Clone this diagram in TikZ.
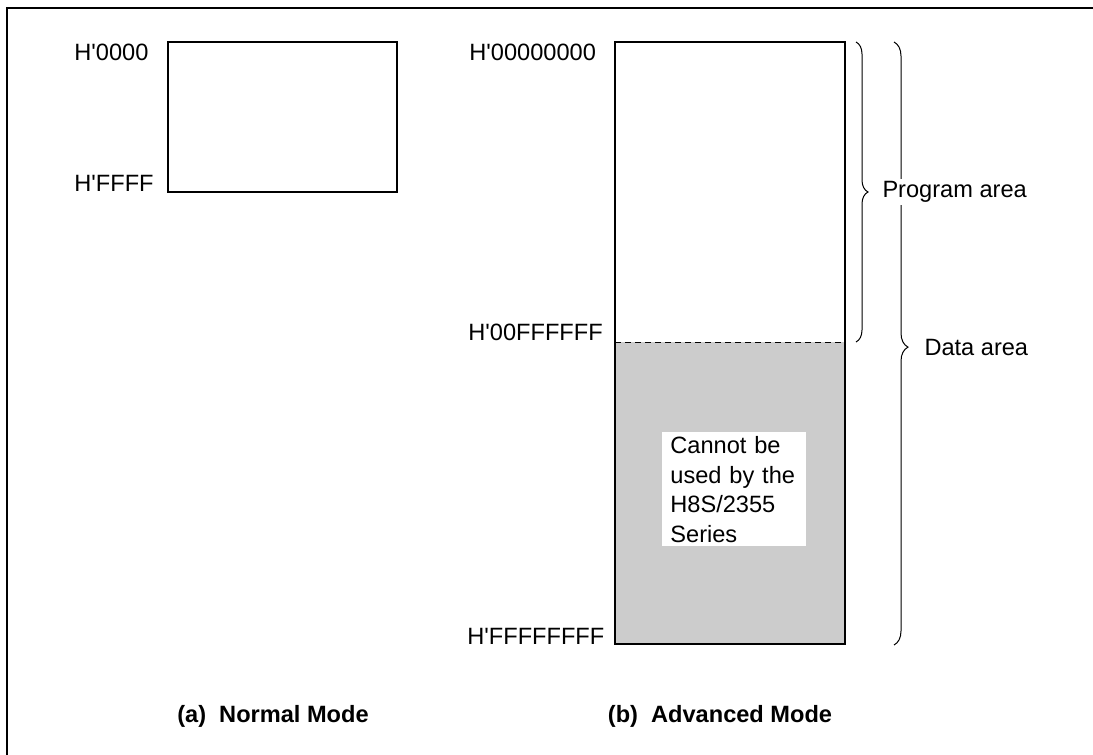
\documentclass[tikz,border=0pt]{standalone}
\usepackage{fontspec}
\setmainfont{Liberation Sans}
\newfontfamily\arialfont{Liberation Sans}
\usetikzlibrary{decorations.pathreplacing}
\begin{document}
\begin{tikzpicture}[x=0.5pt, y=-0.5pt,
    addr/.style={anchor=west, inner sep=0pt, font=\arialfont\fontsize{11.8}{14}\selectfont},
    area/.style={anchor=west, inner sep=1pt, fill=white, font=\arialfont\fontsize{11.8}{14}\selectfont},
    caption/.style={inner sep=0pt, font=\arialfont\fontsize{11.8}{14}\selectfont\bfseries},
    membrace/.style={decorate, line width=0.5pt}]
  \useasboundingbox (0,0) rectangle (1093,755);
  \draw[line width=1pt] (7,755) -- (7,8) -- (1093,8);
  % Normal mode
  \coordinate (NTop) at (168,42);
  \coordinate (NBot) at (397,192);
  \draw[line width=1pt] (NTop) rectangle (NBot);
  \node[addr] (n0) at (74,52) {H'0000};
  \node[addr] (n1) at (74,183) {H'FFFF};
  \node[caption] (capA) at (273,716) {(a)\ \ Normal Mode};
  % Advanced mode
  \coordinate (ATop) at (615,42);
  \coordinate (ADiv) at (615,342);
  \coordinate (AMid) at (845,342);
  \coordinate (ABot) at (845,644);
  \fill[black!20] (ADiv) rectangle (ABot);
  \draw[line width=1pt] (ATop) rectangle (ABot);
  \draw[densely dashed, line width=0.5pt] (ADiv) -- (AMid);
  \node[addr] (a0) at (469,52) {H'00000000};
  \node[addr] (a1) at (468,332) {H'00FFFFFF};
  \node[addr] (a2) at (467,636) {H'FFFFFFFF};
  \node[fill=white, anchor=north west, inner xsep=4pt, inner ysep=0pt, text width=64pt,
    minimum height=57pt, align=left, font=\arialfont\fontsize{11.8}{14.75}\selectfont]
    (note) at (662,432) {Cannot be\\used by the\\H8S/2355\\Series};
  \node[caption] (capB) at (720,716) {(b)\ \ Advanced Mode};
  % Braces
  \coordinate (PTop) at (856,42);
  \coordinate (PBot) at (856,342);
  \coordinate (DTop) at (894,42);
  \coordinate (DBot) at (894,645);
  \draw[membrace, decoration={brace, amplitude=7pt, aspect=0.506}] (DTop) -- (DBot)
    node[area, pos=0.506, xshift=14pt] (data) {Data area};
  \draw[membrace, decoration={brace, amplitude=6pt}] (PTop) -- (PBot)
    node[area, midway, xshift=12pt] (prog) {Program area};
\end{tikzpicture}
\end{document}
